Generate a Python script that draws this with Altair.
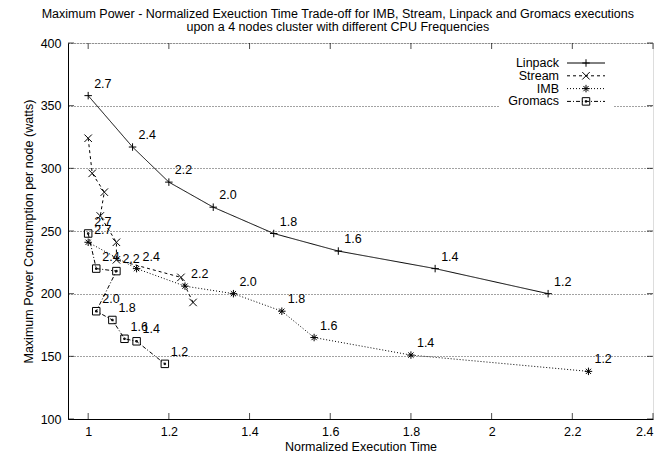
import altair as alt
import pandas as pd

FONT = "Liberation Sans"
FS = 12.5

series = ["Linpack", "Stream", "IMB", "Gromacs"]
freqs = ["2.7", "2.4", "2.2", "2.0", "1.8", "1.6", "1.4", "1.2"]

linpack_time = [1.00, 1.11, 1.20, 1.31, 1.46, 1.62, 1.86, 2.14]
linpack_power = [358, 317, 289, 269, 248, 234, 220, 200]
stream_time = [1.00, 1.01, 1.04, 1.03, 1.07, 1.07, 1.23, 1.26]
stream_power = [324, 296, 281, 262, 241, 227, 213, 193]
imb_time = [1.00, 1.12, 1.24, 1.36, 1.48, 1.56, 1.80, 2.24]
imb_power = [241, 220, 206, 200, 186, 165, 151, 138]
gromacs_time = [1.00, 1.02, 1.07, 1.02, 1.06, 1.09, 1.12, 1.19]
gromacs_power = [248, 220, 218, 186, 179, 164, 162, 144]

x_ticks = [1, 1.2, 1.4, 1.6, 1.8, 2, 2.2, 2.4]
y_ticks = [100, 150, 200, 250, 300, 350, 400]

dashes = [[1, 0], [3, 3], [1, 2], [4, 2, 1, 2]]
shapes = [
    "M-1,0L1,0M0,-1L0,1",
    "M-1,-1L1,1M-1,1L1,-1",
    "M-1,0L1,0M0,-1L0,1M-0.7,-0.7L0.7,0.7M-0.7,0.7L0.7,-0.7",
    "M-1,-1L1,-1L1,1L-1,1Z M-0.2,-0.2L0.2,-0.2L0.2,0.2L-0.2,0.2Z",
]

rows = []
for name, ts, ps in [("Linpack", linpack_time, linpack_power),
                     ("Stream", stream_time, stream_power),
                     ("IMB", imb_time, imb_power),
                     ("Gromacs", gromacs_time, gromacs_power)]:
    for i, (t, p) in enumerate(zip(ts, ps)):
        rows.append({"series": name, "idx": i, "time": t, "power": p, "freq": freqs[i]})
df = pd.DataFrame(rows)

W, H = 585, 376

x_scale = alt.Scale(domain=[0.95, 2.4], nice=False, zero=False)
y_scale = alt.Scale(domain=[100, 400], nice=False, zero=False)

x_enc = alt.X("time:Q", scale=x_scale, axis=alt.Axis(
    values=x_ticks, format="~g", title="Normalized Execution Time", grid=False, ticks=False,
    domainColor="black", labelFontSize=FS, labelFont=FONT, labelColor="black", labelPadding=6,
    titleFont=FONT, titleFontSize=FS, titleFontWeight="normal", titleColor="black", titlePadding=3))
y_enc = alt.Y("power:Q", scale=y_scale, axis=alt.Axis(
    values=y_ticks, title="Maximum Power Consumption per node (watts)", grid=True,
    gridDash=[1, 2], gridColor="#444", gridOpacity=1, ticks=False,
    domainColor="black", labelFontSize=FS, labelFont=FONT, labelColor="black", labelPadding=7,
    titleFont=FONT, titleFontSize=FS, titleFontWeight="normal", titleColor="black", titlePadding=5))

base = alt.Chart(df)

lines = base.mark_line(color="black", strokeWidth=1).encode(
    x=x_enc, y=y_enc,
    strokeDash=alt.StrokeDash("series:N", scale=alt.Scale(domain=series, range=dashes), legend=None),
    detail="series:N",
    order="idx:Q",
)

points = base.mark_point(filled=False, color="black", strokeWidth=1, size=56, opacity=1).encode(
    x=alt.X("time:Q", scale=x_scale),
    y=alt.Y("power:Q", scale=y_scale),
    shape=alt.Shape("series:N", scale=alt.Scale(domain=series, range=shapes), legend=None),
)

labels = base.transform_filter(alt.datum.series != "Stream").mark_text(
    align="left", baseline="middle", dx=6, dy=-12, fontSize=FS, font=FONT, color="black"
).encode(
    x=alt.X("time:Q", scale=x_scale),
    y=alt.Y("power:Q", scale=y_scale),
    text="freq:N",
)

xt = pd.DataFrame({"v": x_ticks})
yt = pd.DataFrame({"v": y_ticks})

bottom_ticks = alt.Chart(xt).mark_tick(orient="vertical", color="black", thickness=1, size=6).encode(
    x=alt.X("v:Q", scale=x_scale), y=alt.value(H - 3))
top_ticks = alt.Chart(xt).mark_tick(orient="vertical", color="black", thickness=1, size=6).encode(
    x=alt.X("v:Q", scale=x_scale), y=alt.value(3))
left_ticks = alt.Chart(yt).mark_tick(orient="horizontal", color="black", thickness=1, size=6).encode(
    y=alt.Y("v:Q", scale=y_scale), x=alt.value(3))
right_ticks = alt.Chart(yt).mark_tick(orient="horizontal", color="black", thickness=1, size=6).encode(
    y=alt.Y("v:Q", scale=y_scale), x=alt.value(W - 3))

one = pd.DataFrame({"a": [0]})
legend_layers = [
    alt.Chart(one).mark_rect(color="white").encode(
        x=alt.value(432), x2=alt.value(545), y=alt.value(10), y2=alt.value(65))
]
for i, name in enumerate(series):
    yy = 20 + 12.8 * i
    legend_layers.append(alt.Chart(one).mark_text(
        align="right", baseline="middle", fontSize=FS, font=FONT, color="black", text=name
    ).encode(x=alt.value(491), y=alt.value(yy)))
    legend_layers.append(alt.Chart(one).mark_rule(
        color="black", strokeWidth=1, strokeDash=dashes[i]
    ).encode(x=alt.value(499), x2=alt.value(537), y=alt.value(yy)))
    legend_layers.append(alt.Chart(one).mark_point(
        shape=shapes[i], filled=False, color="black", strokeWidth=1, size=56, opacity=1
    ).encode(x=alt.value(518), y=alt.value(yy)))

chart = alt.layer(
    lines, bottom_ticks, top_ticks, left_ticks, right_ticks,
    *legend_layers, points, labels
).properties(
    width=W, height=H,
    title=alt.Title(
        ["Maximum Power - Normalized Exeuction Time Trade-off for IMB, Stream, Linpack and Gromacs executions",
         "upon a 4 nodes cluster with different CPU Frequencies"],
        font=FONT, fontSize=FS, fontWeight="normal", color="black", anchor="middle",
        frame="bounds", offset=4, lineHeight=13),
    padding={"left": 60, "top": 35, "right": 7, "bottom": 35},
    autosize=alt.AutoSizeParams(type="none"),
).configure_view(stroke=None).configure(font=FONT)

chart.save("out.html", embed_options={"renderer": "svg", "actions": False})
